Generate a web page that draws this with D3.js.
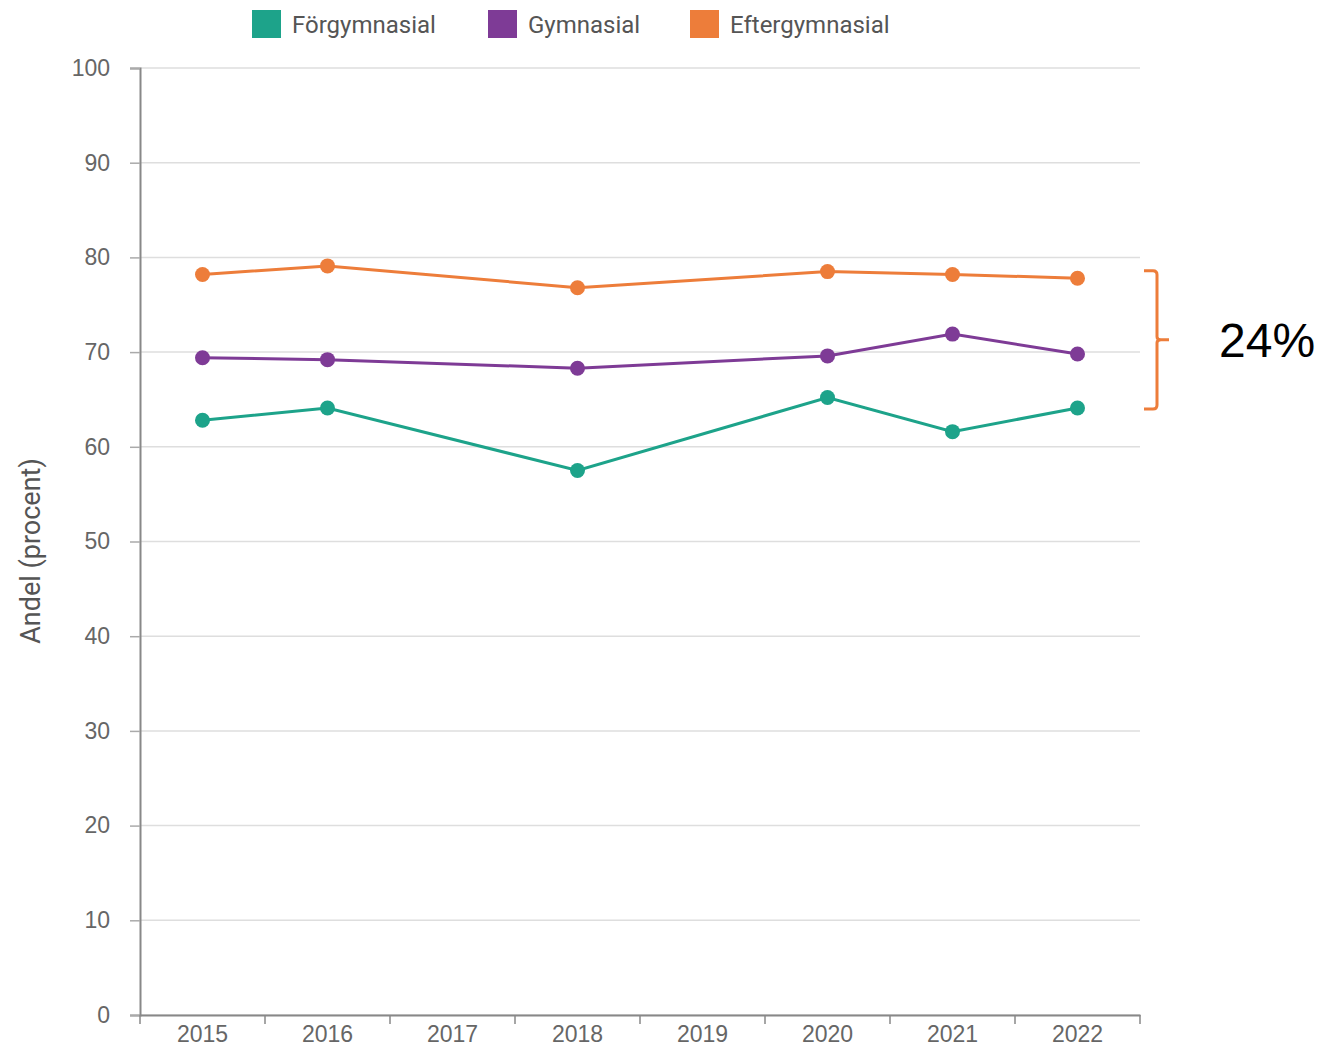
<!DOCTYPE html>
<html>
<head>
<meta charset="utf-8">
<script src="https://cdn.jsdelivr.net/npm/d3@7"></script>
<style>
  body { margin: 0; background: #fff; }
  svg { display: block; font-family: Roboto, "Noto Sans", sans-serif; }
</style>
</head>
<body>
<svg></svg>
<script>
// data
const years = ["2015", "2016", "2017", "2018", "2019", "2020", "2021", "2022"]
const forgymnasial = [62.8, 64.1, null, 57.5, null, 65.2, 61.6, 64.1]
const gymnasial = [69.4, 69.2, null, 68.3, null, 69.6, 71.9, 69.8]
const eftergymnasial = [78.2, 79.1, null, 76.8, null, 78.5, 78.2, 77.8]
const yTicks = [0, 10, 20, 30, 40, 50, 60, 70, 80, 90, 100]
const seriesNames = ["Förgymnasial", "Gymnasial", "Eftergymnasial"]
const seriesColors = ["#1da38a", "#7e3b96", "#ed7d3a"]
const bracketRange = [64, 78.6]
const bracketLabel = "24%"

const series = [forgymnasial, gymnasial, eftergymnasial].map((values, i) => ({
    name: seriesNames[i],
    color: seriesColors[i],
    points: years.map((yr, j) => ({year: yr, value: values[j]})).filter(d => d.value !== null)
}))

const svg = d3.select("svg")
    .attr("width", 1321)
    .attr("height", 1049)

const plotLeft = 140, plotRight = 1140, plotTop = 68, plotBottom = 1015

const x = d3.scaleBand()
    .domain(years)
    .range([plotLeft, plotRight])

const y = d3.scaleLinear()
    .domain([0, 100])
    .range([plotBottom, plotTop])

// gridlines
svg.append("g")
    .selectAll("line")
    .data(yTicks)
    .enter()
    .append("line")
    .attr("x1", plotLeft)
    .attr("x2", plotRight)
    .attr("y1", d => y(d))
    .attr("y2", d => y(d))
    .attr("stroke", "#dedede")
    .attr("stroke-width", 1.5)

// y axis
const yAxis = svg.append("g")
    .attr("transform", `translate(${plotLeft},0)`)
    .call(d3.axisLeft(y).tickValues(yTicks).tickSize(10).tickPadding(20))
yAxis.select(".domain").attr("stroke", "#888").attr("stroke-width", 2)
yAxis.selectAll(".tick line").attr("stroke", "#aaa").attr("stroke-width", 1.5)
yAxis.selectAll(".tick text")
    .attr("fill", "#666")
    .style("font-size", "23px")

// x axis
const xAxis = svg.append("g")
    .attr("transform", `translate(0,${plotBottom})`)
    .call(d3.axisBottom(x).tickSize(0).tickPadding(11))
xAxis.select(".domain").attr("stroke", "#888").attr("stroke-width", 2)
xAxis.selectAll(".tick text")
    .attr("fill", "#666")
    .style("font-size", "23px")
xAxis.selectAll("line.sep")
    .data(years.concat(["end"]))
    .enter()
    .append("line")
    .attr("class", "sep")
    .attr("x1", (d, i) => plotLeft + i * x.step())
    .attr("x2", (d, i) => plotLeft + i * x.step())
    .attr("y1", 0)
    .attr("y2", 9)
    .attr("stroke", "#888")
    .attr("stroke-width", 1.5)

// y title
svg.append("text")
    .attr("transform", `translate(40,551) rotate(-90)`)
    .attr("text-anchor", "middle")
    .attr("fill", "#555")
    .style("font-size", "27px")
    .text("Andel (procent)")

// lines
const line = d3.line()
    .x(d => x(d.year) + x.bandwidth() / 2)
    .y(d => y(d.value))

const groups = svg.selectAll("g.series")
    .data(series)
    .enter()
    .append("g")
    .attr("class", "series")

groups.append("path")
    .attr("d", d => line(d.points))
    .attr("fill", "none")
    .attr("stroke", d => d.color)
    .attr("stroke-width", 3)

groups.selectAll("circle")
    .data(d => d.points.map(p => ({...p, color: d.color})))
    .enter()
    .append("circle")
    .attr("cx", d => x(d.year) + x.bandwidth() / 2)
    .attr("cy", d => y(d.value))
    .attr("r", 7.5)
    .attr("fill", d => d.color)

// legend
const legendX = [252, 488, 690]
const legend = svg.selectAll("g.legend")
    .data(series)
    .enter()
    .append("g")
    .attr("class", "legend")
    .attr("transform", (d, i) => `translate(${legendX[i]},10)`)
legend.append("rect")
    .attr("width", 29)
    .attr("height", 28)
    .attr("fill", d => d.color)
legend.append("text")
    .attr("x", 40)
    .attr("y", 23)
    .attr("fill", "#555")
    .style("font-size", "24px")
    .text(d => d.name)

// bracket
const by1 = y(bracketRange[1]), by2 = y(bracketRange[0])
const bmid = (by1 + by2) / 2
const bx = 1144
svg.append("path")
    .attr("d", `M${bx},${by1} L${bx + 9},${by1} Q${bx + 13},${by1} ${bx + 13},${by1 + 4}
        L${bx + 13},${bmid - 3} Q${bx + 13},${bmid} ${bx + 17},${bmid} L${bx + 25},${bmid}
        M${bx + 17},${bmid} Q${bx + 13},${bmid} ${bx + 13},${bmid + 3}
        L${bx + 13},${by2 - 4} Q${bx + 13},${by2} ${bx + 9},${by2} L${bx},${by2}`)
    .attr("fill", "none")
    .attr("stroke", "#ed7d3a")
    .attr("stroke-width", 3)

svg.append("text")
    .attr("x", 1219)
    .attr("y", bmid + 17)
    .attr("fill", "#000")
    .style("font-family", "'Liberation Sans', Arial, sans-serif")
    .style("font-size", "48px")
    .text(bracketLabel)
</script>
</body>
</html>
